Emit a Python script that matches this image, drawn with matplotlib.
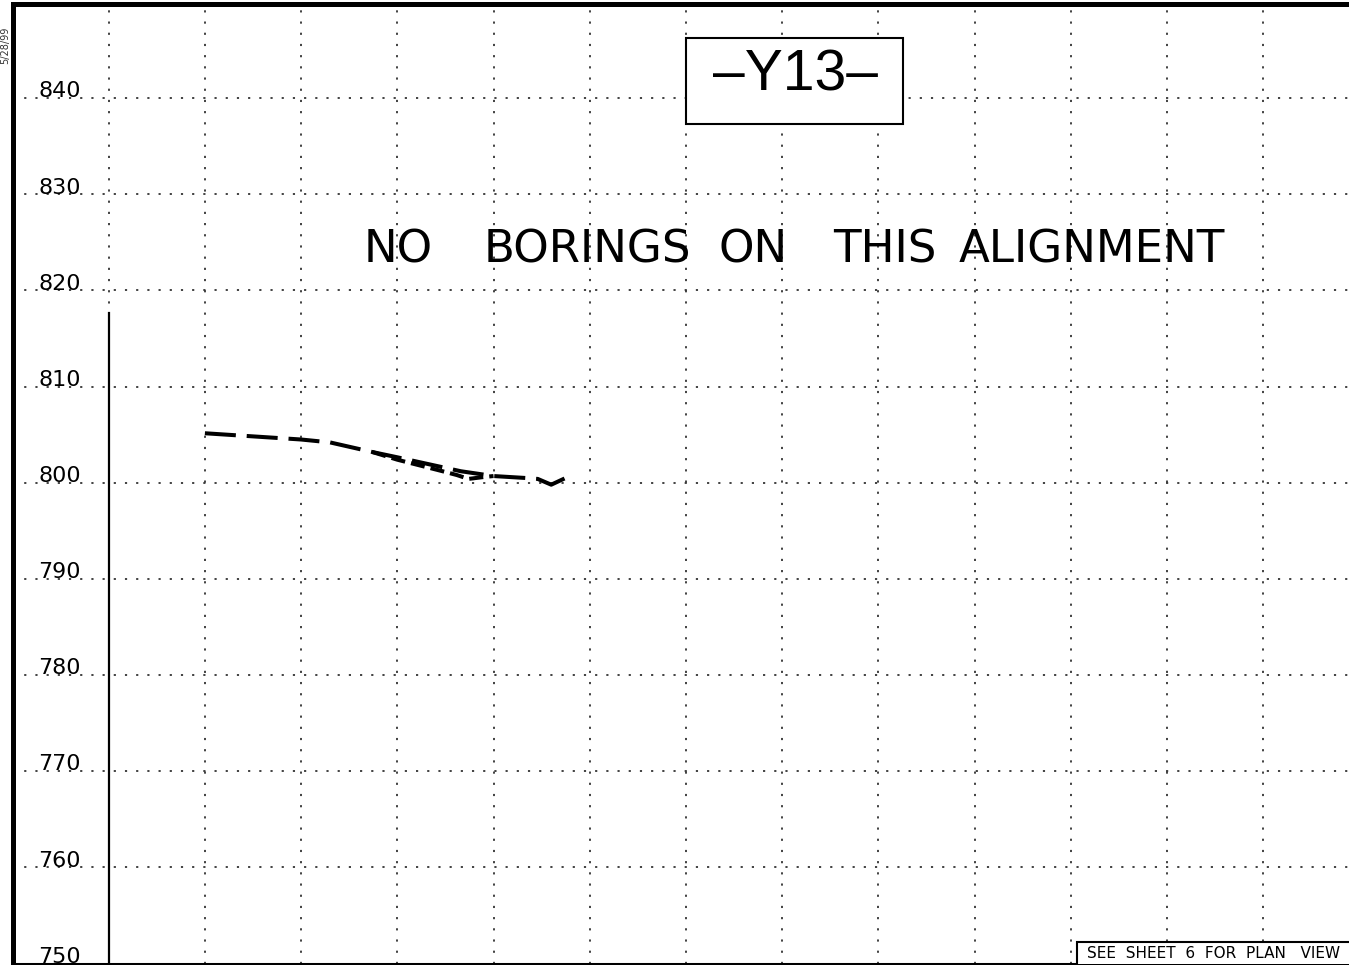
import matplotlib
matplotlib.use("Agg")
import matplotlib.pyplot as plt
from matplotlib.patches import Rectangle

# ---- data (grid units along x, elevation in ft along y) ----
elev_ticks = [750, 760, 770, 780, 790, 800, 810, 820, 830, 840]
x_grid = [1, 2, 3, 4, 5, 6, 7, 8, 9, 10, 11, 12, 13]

ground_x = [2.0, 3.0, 3.3, 3.74, 4.0, 4.66, 5.0, 5.33, 5.46, 5.6, 5.75]
ground_y = [805.15, 804.5, 804.2, 803.2, 802.65, 801.2, 800.7, 800.5, 800.4, 799.8, 800.5]

grade_x = [3.74, 4.0, 4.47, 4.62, 4.74, 4.9, 5.0]
grade_y = [803.2, 802.4, 801.2, 800.8, 800.4, 800.6, 800.7]

start_line_x = 1.0
start_line_top = 817.7

title_text = "\u2013Y13\u2013"
note_words = ["NO", "BORINGS", "ON", "THIS", "ALIGNMENT"]
note_word_x = [3.65, 4.9, 7.34, 8.53, 9.83]
footer_text = "SEE  SHEET  6  FOR  PLAN   VIEW"
date_text = "5/28/99"

W, H = 1349, 965
fig = plt.figure(figsize=(W / 100, H / 100), dpi=100)
left = 12.5 / W
bottom = 1.5 / H
top = 4 / H
ax = fig.add_axes([left, bottom, 1 - left, 1 - bottom - top])
ax.set_xlim(0, (W - 12.5) / 96.2)
ax.set_ylim(750, 749.9 + (964 - 4) / 9.61)

# spines
for s in ["left", "top"]:
    ax.spines[s].set_linewidth(3.6)
ax.spines["bottom"].set_linewidth(2.2)
ax.spines["right"].set_visible(False)
ax.set_xticks([])
ax.set_yticks([])

# dotted grid
grid_kw = dict(color="#333333", lw=1.3, linestyle=(0, (1.2, 5.0)), zorder=1)
for xv in x_grid:
    ax.axvline(xv, **grid_kw)
for yv in elev_ticks[1:]:
    ax.axhline(yv, **grid_kw)

# elevation labels
for yv in elev_ticks:
    ax.text(0.27, yv + 0.08, str(yv), fontsize=16, ha="left", va="baseline",
            family="DejaVu Sans", zorder=3)

# vertical begin line
ax.plot([start_line_x, start_line_x], [750, start_line_top], color="black", lw=1.6, zorder=3)

# ground/grade lines
dash = (0, (7.7, 2.7))
ax.plot(ground_x, ground_y, color="black", lw=2.9, linestyle=dash, zorder=4,
        dash_capstyle="butt")
ax.plot(grade_x, grade_y, color="black", lw=2.9, linestyle=(0, (3.5, 1.5)), zorder=4,
        dash_capstyle="butt")

# title box
ax.add_patch(Rectangle((7.0, 837.3), 2.26, 8.95, facecolor="white", edgecolor="black",
                       lw=1.5, zorder=5))
ax.text(8.14, 842.4, title_text, fontsize=41, ha="center", va="center",
        family="Liberation Sans", zorder=6)

# note
for w, xv in zip(note_words, note_word_x):
    ax.text(xv, 822.95, w, fontsize=32.5, ha="left", va="baseline",
            family="DejaVu Sans", zorder=6)

# footer box
ax.add_patch(Rectangle((11.07, 749.0), 4.0, 3.2, facecolor="white", edgecolor="black",
                       lw=1.5, zorder=5, clip_on=True))
ax.text(11.17, 750.62, footer_text, fontsize=11, ha="left", va="baseline",
        family="DejaVu Sans", zorder=6)

# date stamp at edge
fig.text(5 / W, 1 - 45 / H, date_text, rotation=90, fontsize=7, ha="center",
         va="center", color="#333333")

fig.savefig("out.png", dpi=100)
